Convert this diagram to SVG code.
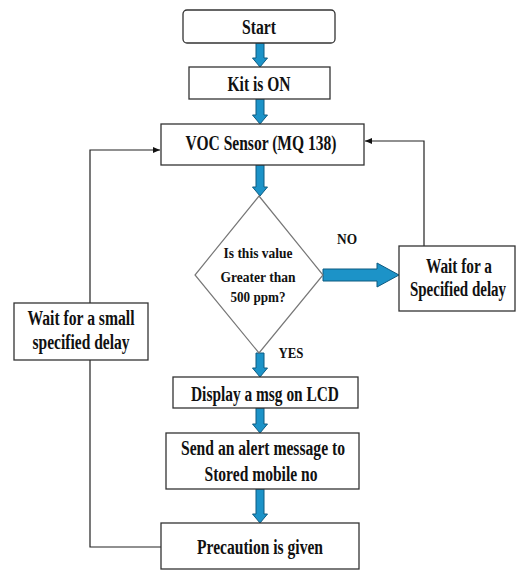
<svg xmlns="http://www.w3.org/2000/svg" width="516" height="571" viewBox="0 0 516 571">
<style>
.box{fill:#fff;stroke:#333;stroke-width:1.3}
.t{font-family:"Liberation Serif","Times New Roman",serif;font-weight:bold;font-size:20px;fill:#111;text-anchor:middle}
.s{font-size:15.5px}
.blk{fill:#1c93c8;stroke:#0d5a80;stroke-width:1}
.ln{fill:none;stroke:#222;stroke-width:1.2}
</style>
<defs>
<marker id="ah" markerWidth="8" markerHeight="8" refX="7" refY="4" orient="auto" markerUnits="userSpaceOnUse">
<path d="M0,1 L7,4 L0,7 Z" fill="#111"/>
</marker>
</defs>
<g id="connectors">
<polygon class="blk" points="256,43 264,43 264,58 267.5,58 260,67 252.5,58 256,58"/>
<polygon class="blk" points="256,99 264,99 264,115 267.5,115 260,124 252.5,115 256,115"/>
<polygon class="blk" points="256,165 264,165 264,187 267.5,187 260,196 252.5,187 256,187"/>
<polygon class="blk" points="256,353 264,353 264,368 267.5,368 260,377 252.5,368 256,368"/>
<polygon class="blk" points="256,408 264,408 264,424 267.5,424 260,433 252.5,424 256,424"/>
<polygon class="blk" points="256,489 264,489 264,514 267.5,514 260,523 252.5,514 256,514"/>
<polygon class="blk" points="323,269 377,269 377,263 399,275 377,287 377,281 323,281"/>
<polyline class="ln" points="424,246 424,141 365,141" marker-end="url(#ah)"/>
<polyline class="ln" points="90,303 90,150 160,150" marker-end="url(#ah)"/>
<polyline class="ln" points="90,360 90,547 161,547"/>
<text class="t s" x="347" y="244" textLength="20" lengthAdjust="spacingAndGlyphs">NO</text>
<text class="t s" x="291" y="358" textLength="25" lengthAdjust="spacingAndGlyphs">YES</text>
</g>
<g id="start">
<rect class="box" x="183" y="10" width="152" height="33" rx="4"/>
<text class="t" x="259" y="34" textLength="34" lengthAdjust="spacingAndGlyphs">Start</text>
</g>
<g id="kit">
<rect class="box" x="189" y="67" width="141" height="32"/>
<text class="t" x="259" y="91" textLength="63" lengthAdjust="spacingAndGlyphs">Kit is ON</text>
</g>
<g id="voc">
<rect class="box" x="161" y="124" width="203" height="41"/>
<text class="t" x="261" y="150" textLength="151" lengthAdjust="spacingAndGlyphs">VOC Sensor (MQ 138)</text>
</g>
<g id="decision">
<polygon points="259,196 323,275 259,353 195,275" fill="#fff" stroke="#777" stroke-width="1.2"/>
<text class="t s" x="258" y="258" textLength="69" lengthAdjust="spacingAndGlyphs">Is this value</text>
<text class="t s" x="258" y="282" textLength="75" lengthAdjust="spacingAndGlyphs">Greater than</text>
<text class="t s" x="258" y="302" textLength="55" lengthAdjust="spacingAndGlyphs">500 ppm?</text>
</g>
<g id="waitRight">
<rect class="box" x="399" y="246" width="116" height="65"/>
<text class="t" x="459" y="273" textLength="66" lengthAdjust="spacingAndGlyphs">Wait for a</text>
<text class="t" transform="translate(458,296) scale(0.75,1)" x="0" y="0">Specified delay</text>
</g>
<g id="waitLeft">
<rect class="box" x="14" y="303" width="134" height="57"/>
<text class="t" x="81" y="325" textLength="107" lengthAdjust="spacingAndGlyphs">Wait for a small</text>
<text class="t" x="81" y="349" textLength="97" lengthAdjust="spacingAndGlyphs">specified delay</text>
</g>
<g id="display">
<rect class="box" x="173" y="377" width="185" height="31"/>
<text class="t" x="265" y="401" textLength="148" lengthAdjust="spacingAndGlyphs">Display a msg on LCD</text>
</g>
<g id="send">
<rect class="box" x="166" y="433" width="193" height="56"/>
<text class="t" x="263" y="455" textLength="164" lengthAdjust="spacingAndGlyphs">Send an alert message to</text>
<text class="t" x="261" y="481" textLength="113" lengthAdjust="spacingAndGlyphs">Stored mobile no</text>
</g>
<g id="precaution">
<rect class="box" x="161" y="523" width="198" height="46"/>
<text class="t" x="260" y="554" textLength="126" lengthAdjust="spacingAndGlyphs">Precaution is given</text>
</g>
</svg>
